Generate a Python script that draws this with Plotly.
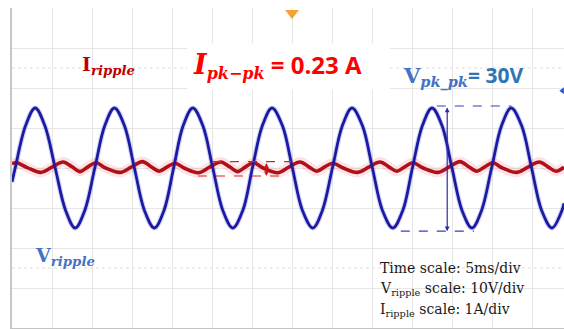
import plotly.graph_objects as go

# ---------------- values ----------------
TIME_MS_PER_DIV = 5      # Time scale: 5ms/div
V_PER_DIV = 10           # V_ripple scale: 10V/div
A_PER_DIV = 1            # I_ripple scale: 1A/div

# Voltage ripple trace (blue): time [ms], voltage [V]
v_time_ms = [0.0, 0.4, 1.7, 2.9, 4.1, 5.4, 6.7, 7.9, 9.1, 10.35, 11.6, 12.8, 14.05,
             15.3, 16.55, 17.8, 19.0, 20.2, 21.4, 22.6, 23.85, 25.1, 26.35, 27.6,
             28.85, 30.05, 31.3, 32.5, 33.8, 35.05, 36.3, 37.6, 38.8, 40.05, 41.3,
             42.5, 43.8, 45.05, 46.3, 47.6, 48.85, 50.05, 51.3, 52.5, 53.75, 55.0,
             56.25, 57.5, 58.7, 59.95, 61.2, 62.4, 63.7, 64.95, 66.2, 67.5, 68.75, 69.0]
v_ripple_v = [-3.5, 0.0, 10.6, 15.0, 10.6, 0.0, -10.6, -15.0, -10.6, 0.0, 10.6, 15.0, 10.6,
              0.0, -10.6, -15.0, -10.6, 0.0, 10.6, 15.0, 10.6, 0.0, -10.6, -15.0,
              -10.6, 0.0, 10.6, 15.0, 10.6, 0.0, -10.6, -15.0, -10.6, 0.0, 10.6,
              15.0, 10.6, 0.0, -10.6, -15.0, -10.6, 0.0, 10.6, 15.0, 10.6, 0.0,
              -10.6, -15.0, -10.6, 0.0, 10.6, 15.0, 10.6, 0.0, -10.6, -15.0, -10.6, -8.8]

# Current ripple trace (red): time [ms], current [A]
i_time_ms = [0.0, 0.6, 1.9, 3.6, 5.0, 6.4, 7.5, 8.5, 9.5, 10.5, 11.7,
             13.5, 14.9, 16.3, 17.4, 18.4, 19.4, 20.4, 21.5,
             23.3, 24.7, 26.1, 27.2, 28.2, 29.2, 30.2, 31.4,
             33.2, 34.6, 36.0, 37.1, 38.1, 39.1, 40.1, 41.4,
             43.2, 44.6, 46.0, 47.1, 48.1, 49.1, 50.1, 51.4,
             53.2, 54.6, 56.0, 57.1, 58.1, 59.1, 60.1, 61.3,
             63.1, 64.5, 65.9, 67.0, 68.0, 69.0]
i_ripple_a = [0.11, 0.13, 0.01, -0.11, 0.02, 0.15, 0.03, -0.09, 0.03, 0.13, 0.0,
              -0.11, 0.02, 0.16, 0.03, -0.08, 0.03, 0.12, 0.0,
              -0.12, 0.02, 0.15, 0.03, -0.09, 0.03, 0.13, 0.0,
              -0.12, 0.02, 0.15, 0.03, -0.08, 0.03, 0.12, 0.0,
              -0.11, 0.02, 0.15, 0.03, -0.08, 0.03, 0.13, 0.0,
              -0.11, 0.02, 0.16, 0.03, -0.08, 0.03, 0.13, 0.0,
              -0.11, 0.02, 0.15, 0.03, -0.08, 0.02]

# Measurement cursors
i_cursor_top_a, i_cursor_bot_a = 0.16, -0.20
v_cursor_top_v, v_cursor_bot_v = 15.5, -15.8

# ---------------- figure ----------------
W, H = 564, 329
X_DIVS, Y_DIVS = 13.8, 8
x_max = X_DIVS * TIME_MS_PER_DIV

v_div = [v / V_PER_DIV for v in v_ripple_v]
i_div = [a / A_PER_DIV for a in i_ripple_a]

BLUE = "#1a1aa3"
RED = "#b0101a"

fig = go.Figure()
# halos
fig.add_trace(go.Scatter(x=v_time_ms, y=v_div, mode="lines", line=dict(color="rgba(50,50,210,0.22)", width=5, shape="spline", smoothing=1.0), hoverinfo="skip"))
fig.add_trace(go.Scatter(x=i_time_ms, y=i_div, mode="lines", line=dict(color="rgba(240,80,80,0.16)", width=10, shape="spline", smoothing=1.0), hoverinfo="skip"))
# main traces
fig.add_trace(go.Scatter(x=i_time_ms, y=i_div, mode="lines", line=dict(color=RED, width=3.6, shape="spline", smoothing=1.0), name="I_ripple"))
fig.add_trace(go.Scatter(x=v_time_ms, y=v_div, mode="lines", line=dict(color=BLUE, width=2.8, shape="spline", smoothing=1.0), name="V_ripple"))
# trigger marker
fig.add_trace(go.Scatter(x=[7 * TIME_MS_PER_DIV], y=[3.875], mode="markers", marker=dict(symbol="triangle-down", size=12, color="#f4a234"), cliponaxis=False, hoverinfo="skip"))
fig.add_trace(go.Scatter(x=[68.8], y=[1.93], mode="markers", marker=dict(symbol="triangle-left", size=6, color="#3355cc"), cliponaxis=False, hoverinfo="skip"))

shapes = []
for yv in (2.5, -2.5):
    shapes.append(dict(type="line", xref="x", yref="y", x0=0, x1=x_max, y0=yv, y1=yv,
                       line=dict(color="#dedede", width=1, dash="dot"), layer="below"))
# white box behind I_pk-pk label
shapes.append(dict(type="rect", xref="x", yref="y", x0=21.9, x1=47.25, y0=1.95, y1=3.125,
                   fillcolor="white", line=dict(width=0), layer="between"))
# current cursors
shapes.append(dict(type="line", x0=25.0, x1=35.4, y0=i_cursor_top_a / A_PER_DIV, y1=i_cursor_top_a / A_PER_DIV,
                   line=dict(color="#e02020", width=1.2, dash="dash")))
shapes.append(dict(type="line", x0=23.25, x1=33.9, y0=i_cursor_bot_a / A_PER_DIV, y1=i_cursor_bot_a / A_PER_DIV,
                   line=dict(color="#e02020", width=1.2, dash="dash")))
# voltage cursors
shapes.append(dict(type="line", x0=53.1, x1=62.4, y0=v_cursor_top_v / V_PER_DIV, y1=v_cursor_top_v / V_PER_DIV,
                   line=dict(color="#3040c8", width=1.2, dash="dash")))
shapes.append(dict(type="line", x0=48.6, x1=57.75, y0=v_cursor_bot_v / V_PER_DIV, y1=v_cursor_bot_v / V_PER_DIV,
                   line=dict(color="#3040c8", width=1.2, dash="dash")))

ann = []
# double arrows
ann.append(dict(x=31.8, y=i_cursor_bot_a / A_PER_DIV, ax=31.8, ay=i_cursor_top_a / A_PER_DIV,
                xref="x", yref="y", axref="x", ayref="y", text="", showarrow=True,
                arrowside="end+start", arrowhead=2, arrowsize=0.8, arrowwidth=1.2, arrowcolor="#d01818"))
ann.append(dict(x=54.4, y=v_cursor_bot_v / V_PER_DIV, ax=54.4, ay=v_cursor_top_v / V_PER_DIV,
                xref="x", yref="y", axref="x", ayref="y", text="", showarrow=True,
                arrowside="end+start", arrowhead=2, arrowsize=0.8, arrowwidth=1.2, arrowcolor="#2a2ab0"))

SERIF = "DejaVu Serif"
SANS = "Open Sans"
ann.append(dict(x=8.5, y=2.57, xref="x", yref="y", xanchor="left", yanchor="middle", showarrow=False,
                text="<b>I<sub><i>ripple</i></sub></b>",
                font=dict(family=SERIF, size=19, color="#c00000")))
ann.append(dict(x=22.4, y=2.57, xref="x", yref="y", xanchor="left", yanchor="middle", showarrow=False,
                text=('<span style="font-family:DejaVu Serif;font-size:27px"><b><i>I</i></b></span>'
                      '<sub><span style="font-family:DejaVu Serif;font-size:16px"><b><i>pk−pk</i></b></span></sub>'
                      '<b> = 0.23 A</b>'),
                font=dict(family=SANS, size=24, color="#ff0000", weight="bold")))
ann.append(dict(x=48.6, y=2.3, xref="x", yref="y", xanchor="left", yanchor="middle", showarrow=False,
                text=('<span style="font-family:DejaVu Serif;font-size:21px;color:#4472c4"><b>V</b></span>'
                      '<sub><span style="font-family:DejaVu Serif;font-size:14.5px;color:#4472c4"><b><i>pk_pk</i></b></span></sub>'
                      '<b>= 30V</b>'),
                font=dict(family=SANS, size=21, color="#2e75b6", weight="bold")))
ann.append(dict(x=2.6, y=-2.22, xref="x", yref="y", xanchor="left", yanchor="middle", showarrow=False,
                text="<b>V<sub><i>ripple</i></sub></b>",
                font=dict(family=SERIF, size=19, color="#4472c4")))

info_lines = ["Time scale: 5ms/div", "V<sub>ripple</sub> scale: 10V/div", "I<sub>ripple</sub> scale: 1A/div"]
for k, (txt, yv) in enumerate(zip(info_lines, (-2.5, -3.02, -3.55))):
    ann.append(dict(x=45.75, y=yv, xref="x", yref="y", xanchor="left", yanchor="middle", showarrow=False,
                    text=txt, font=dict(family=SERIF, size=14, color="#1a1a1a")))

fig.update_layout(
    width=W, height=H,
    margin=dict(l=12, r=0, t=8, b=1),
    paper_bgcolor="white", plot_bgcolor="white",
    showlegend=False,
    shapes=shapes, annotations=ann,
    xaxis=dict(range=[0, x_max], dtick=TIME_MS_PER_DIV, tick0=0, showgrid=True, gridcolor="#e6e6e6",
               gridwidth=1, zeroline=False, showticklabels=False, ticks="", showline=True,
               linecolor="#c4c4c4", linewidth=2, fixedrange=True),
    yaxis=dict(range=[-Y_DIVS / 2, Y_DIVS / 2], dtick=1, tick0=0, showgrid=True, gridcolor="#e6e6e6",
               gridwidth=1, zeroline=False, showticklabels=False, ticks="", showline=True,
               linecolor="#c8c8c8", linewidth=1.5, fixedrange=True),
)

fig.write_html("out.html", config=dict(displayModeBar=False),
               post_script="document.body.style.margin='0';document.body.style.overflow='hidden';")
